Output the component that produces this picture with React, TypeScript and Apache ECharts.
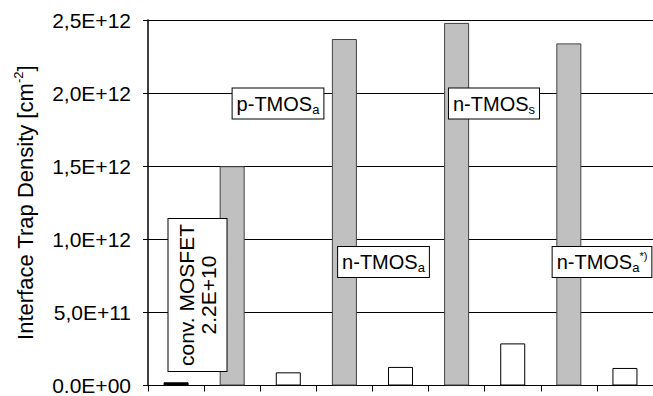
import React, { useEffect, useRef } from "react";
import * as echarts from "echarts";

const categories = [
  "conv. MOSFET",
  "p-TMOSa",
  "p-TMOSa (2)",
  "n-TMOSa",
  "n-TMOSa (2)",
  "n-TMOSs",
  "n-TMOSs (2)",
  "n-TMOSa*)",
  "n-TMOSa*) (2)",
];
const values = [2.2e10, 1.5e12, 9.0e10, 2.37e12, 1.27e11, 2.48e12, 2.88e11, 2.34e12, 1.2e11];
const barKinds = ["black", "gray", "white", "gray", "white", "gray", "white", "gray", "white"];
const yTickLabels = ["0.0E+00", "5,0E+11", "1,0E+12", "1,5E+12", "2,0E+12", "2,5E+12"];
const yName = "Interface Trap Density [cm{sup|-2}]";

const FONT = "'Liberation Sans', Arial, sans-serif";

const kindStyle: Record<string, { color: string; borderColor: string }> = {
  black: { color: "#000000", borderColor: "#000000" },
  gray: { color: "#c0c0c0", borderColor: "#404040" },
  white: { color: "#ffffff", borderColor: "#000000" },
};

const boxRich = {
  m: { fontSize: 20, fontFamily: FONT, color: "#000", lineHeight: 24, verticalAlign: "middle" },
  sub: { fontSize: 13, fontFamily: FONT, color: "#000", lineHeight: 14, verticalAlign: "bottom" },
  sup: { fontSize: 11, fontFamily: FONT, color: "#000", lineHeight: 14, verticalAlign: "top" },
};

function boxText(x: number, y: number, text: string) {
  return {
    type: "text",
    x,
    y,
    z: 100,
    style: {
      text,
      rich: boxRich,
      align: "center",
      verticalAlign: "middle",
      backgroundColor: "#fff",
      borderColor: "#000",
      borderWidth: 1,
      padding: [3, 4, 3, 4],
    },
  };
}

export default function App() {
  const ref = useRef<HTMLDivElement>(null);
  useEffect(() => {
    if (!ref.current) return;
    const chart = echarts.init(ref.current, null, { renderer: "svg" });
    chart.setOption({
      animation: false,
      backgroundColor: "#fff",
      grid: { left: 148, top: 20, width: 510, height: 367, containLabel: false },
      xAxis: {
        type: "category",
        data: categories,
        boundaryGap: true,
        axisLine: { show: true, lineStyle: { color: "#000", width: 1 } },
        axisTick: { show: true, interval: 0, length: 6, lineStyle: { color: "#000" } },
        axisLabel: { show: false, interval: 0 },
        splitLine: { show: false },
      },
      yAxis: {
        type: "value",
        min: 0,
        max: 2.5e12,
        interval: 5e11,
        name: yName,
        nameLocation: "middle",
        nameGap: 110,
        nameRotate: 90,
        nameTextStyle: {
          fontSize: 22,
          fontFamily: FONT,
          color: "#000",
          rich: {
            sup: { fontSize: 13, fontFamily: FONT, color: "#000", verticalAlign: "top", lineHeight: 26 },
          },
        },
        axisLine: { show: true, lineStyle: { color: "#000", width: 1.5 } },
        axisTick: { show: true, length: 5, lineStyle: { color: "#000" } },
        axisLabel: {
          margin: 17,
          fontSize: 21,
          fontFamily: FONT,
          color: "#000",
          formatter: (_v: number, i: number) => yTickLabels[i] ?? "",
        },
        splitLine: { show: true, lineStyle: { color: "#000", width: 1 } },
      },
      series: [
        {
          type: "bar",
          barWidth: 25,
          data: values.map((v, i) => ({
            value: v,
            itemStyle: { ...kindStyle[barKinds[i]], borderWidth: 1 },
          })),
        },
      ],
      graphic: [
        {
          type: "text",
          x: 197.5,
          y: 295,
          rotation: Math.PI / 2,
          z: 100,
          style: {
            text: "conv. MOSFET\n2.2E+10",
            font: `21px ${FONT}`,
            fill: "#000",
            lineHeight: 22,
            align: "center",
            verticalAlign: "middle",
            backgroundColor: "#fff",
            borderColor: "#000",
            borderWidth: 1,
            padding: [7, 5, 7, 5],
          },
        },
        boxText(278, 103.5, "{m|p-TMOS}{sub|a}"),
        boxText(383.5, 262, "{m|n-TMOS}{sub|a}"),
        boxText(494, 103.5, "{m|n-TMOS}{sub|s}"),
        boxText(602, 262, "{m|n-TMOS}{sub|a}{sup|*)}"),
      ],
    });
    return () => chart.dispose();
  }, []);
  return (
    <div
      ref={ref}
      style={{ position: "fixed", left: 0, top: 0, width: 653, height: 396, background: "#fff" }}
    />
  );
}
